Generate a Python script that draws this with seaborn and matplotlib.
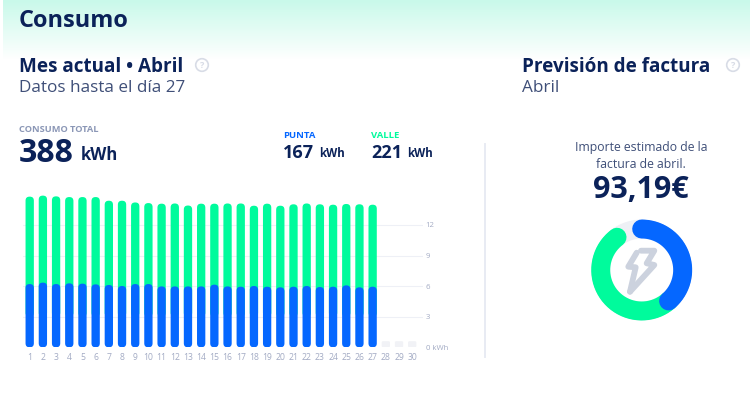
import numpy as np
import pandas as pd
import seaborn as sns
import matplotlib
matplotlib.use('Agg')
import matplotlib.pyplot as plt
from matplotlib.patches import FancyBboxPatch, Circle

# Data
days = list(range(1, 31))
punta = [6.20, 6.34, 6.20, 6.27, 6.24, 6.17, 6.11, 6.01, 6.20, 6.20, 5.97, 5.97, 5.97, 5.97, 6.14,
         5.97, 5.94, 6.01, 5.94, 5.88, 5.94, 6.01, 5.91, 5.94, 6.07, 5.88, 5.94,
         np.nan, np.nan, np.nan]
total = [14.77, 14.87, 14.80, 14.73, 14.73, 14.73, 14.37, 14.37, 14.20, 14.14, 14.08, 14.10, 13.90, 14.08, 14.08,
         14.10, 14.10, 13.88, 14.08, 13.88, 14.02, 14.10, 14.02, 13.98, 14.05, 14.02, 13.98,
         np.nan, np.nan, np.nan]
pending = [np.nan] * 27 + [0.6, 0.6, 0.6]
y_ticks = [0, 3, 6, 9, 12]
y_labels = ['0 kWh', '3', '6', '9', '12']
punta_total = 167
valle_total = 221
gauge_sweep = 323

NAVY = '#0b2259'
SLATE = '#3f4f78'
BLUE = '#0567ff'
MINT = '#00fb9c'
TICK = '#a3abc4'
GRID = '#eef0f6'
W, H = 750, 401

plt.rcParams['font.family'] = ['Open Sans', 'DejaVu Sans']
fig = plt.figure(figsize=(W / 100, H / 100), dpi=100)

# Mint fade behind the header
bg = fig.add_axes([3 / W, 1 - 60 / H, 1 - 3 / W, 60 / H])
fade = np.linspace(0, 1, 60).reshape(-1, 1)
cmap = matplotlib.colors.LinearSegmentedColormap.from_list('fade', ['#c9f9ea', '#ffffff'])
bg.imshow(fade, aspect='auto', cmap=cmap)
bg.axis('off')

# Bars
x0, x1 = 23, 423
y_bot, y_top = 347.3, 190
ax = fig.add_axes([x0 / W, 1 - y_bot / H, (x1 - x0) / W, (y_bot - y_top) / H])
df = pd.DataFrame({'day': days, 'punta': punta, 'total': total, 'pending': pending})
sns.barplot(data=df, x='day', y='total', color=MINT, width=0.63, saturation=1, ax=ax)
sns.barplot(data=df, x='day', y='punta', color=BLUE, width=0.63, saturation=1, ax=ax)
sns.barplot(data=df, x='day', y='pending', color='#f1f2f6', width=0.63, saturation=1, ax=ax)
ax.set_xlim((x0 - 29.7) / 13.19, (x1 - 29.7) / 13.19)
ax.set_ylim(0, (y_bot - y_top) / 10.2)

# round the bars off: one x unit is 13.19 px, one y unit 10.2 px
aspect = 13.19 / 10.2
bars = list(ax.patches)
for b in bars:
    x, w, h = b.get_x(), b.get_width(), b.get_height()
    if np.isnan(h):
        continue
    is_green = b.get_facecolor()[:3] == matplotlib.colors.to_rgb(MINT)
    floor = 3 if is_green else 0
    rad = 0.1 if h < 1 else 0.3
    ax.add_patch(FancyBboxPatch((x, floor), w, h - floor, boxstyle=f'round,pad=0,rounding_size={rad}',
                                mutation_aspect=aspect, fc=b.get_facecolor(), ec='none',
                                zorder=2 + (not is_green)))
    b.set_visible(False)

sns.despine(ax=ax, left=True, bottom=True, right=True, top=True)
ax.set_facecolor('none')
ax.set_xlabel('')
ax.set_ylabel('')
ax.yaxis.tick_right()
ax.set_yticks(y_ticks)
ax.set_yticklabels(y_labels)
ax.tick_params(axis='x', length=0, labelsize=6.2, labelcolor=TICK, pad=4)
ax.tick_params(axis='y', length=0, labelsize=5.6, labelcolor=TICK, pad=2)
ax.grid(axis='y', color=GRID, lw=0.8)
ax.set_axisbelow(True)
ax.yaxis.get_gridlines()[0].set_visible(False)

# Text and decoration in pixel coordinates
ov = fig.add_axes([0, 0, 1, 1], zorder=5)
ov.set_xlim(0, W)
ov.set_ylim(H, 0)
ov.axis('off')


def txt(x, y, s, size, color=NAVY, weight='normal', ha='left'):
    ov.text(x, y, s, fontsize=size, color=color, fontweight=weight, ha=ha, va='center_baseline')


txt(19, 18, 'Consumo', 16.9, weight='bold')
txt(19, 64, 'Mes actual • Abril', 13.6, weight='bold')
txt(19, 86, 'Datos hasta el día 27', 12.3, color=SLATE)
txt(19, 128, 'CONSUMO TOTAL', 6.7, color='#8b97b6', weight='bold')
txt(19, 150, '388', 23, weight='bold')
txt(81, 153, 'kWh', 12, weight='bold')
txt(283, 134, 'PUNTA', 6.8, color=BLUE, weight='bold')
txt(283, 151, str(punta_total), 13, weight='bold')
txt(319, 152, 'kWh', 8.3, weight='bold')
txt(371, 134, 'VALLE', 6.8, color=MINT, weight='bold')
txt(371, 151, str(valle_total), 13, weight='bold')
txt(407, 152, 'kWh', 8.3, weight='bold')
txt(522, 64, 'Previsión de factura', 13.55, weight='bold')
txt(522, 86, 'Abril', 12.3, color=SLATE)
txt(641, 146, 'Importe estimado de la', 8.8, color=SLATE, ha='center')
txt(641, 163, 'factura de abril.', 8.8, color=SLATE, ha='center')
txt(641, 187, '93,19€', 22, weight='bold', ha='center')

ov.plot([484.5, 484.5], [144, 357], color='#e8ebf3', lw=1.4)

for cx in [202, 733]:
    ov.add_patch(Circle((cx, 65), 6.3, fc='white', ec='#d8dce6', lw=1.2))
    ov.text(cx, 65, '?', fontsize=6.5, color='#d8dce6', ha='center', va='center', fontweight='bold')

# Gauge: the arc after the gap is split by the two totals
cx, cy, r_out = 641.7, 270, 51
gauge = fig.add_axes([(cx - r_out) / W, 1 - (cy + r_out) / H, 2 * r_out / W, 2 * r_out / H],
                     projection='polar', zorder=4)
gauge.set_theta_zero_location('N')
gauge.set_theta_direction(-1)
gauge.set_ylim(0, r_out)
gauge.axis('off')
split = gauge_sweep * punta_total / (punta_total + valle_total)
ring_lw = 19 * 0.72
for a, b, col in [(0, 360, '#eef0f5'), (split, gauge_sweep, MINT), (0, split, BLUE)]:
    th = np.radians(np.linspace(a, b, 200))
    gauge.plot(th, np.full_like(th, 41.0), color=col, lw=ring_lw, solid_capstyle='round')

# Bolt icon, two strokes
for xs, ys in [([636.7, 628.3, 635.7, 630], [252.7, 266.7, 267.3, 291.7]),
               ([641, 654.3, 646.7, 654.3, 630], [250.7, 250.7, 263.3, 265, 291.7])]:
    ov.plot(xs, ys, color='#ccd2de', lw=4.2, solid_joinstyle='round', solid_capstyle='round')

fig.savefig('out.png', dpi=100)
